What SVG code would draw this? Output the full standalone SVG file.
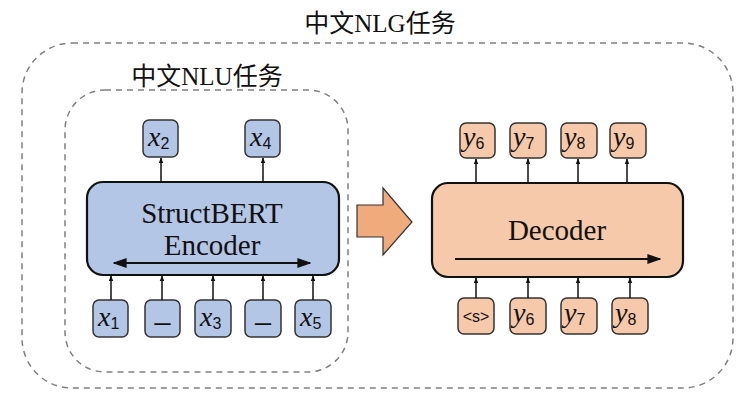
<svg xmlns="http://www.w3.org/2000/svg" width="750" height="412" viewBox="0 0 750 412">
<defs>
<style>
.dash{fill:none;stroke:#808080;stroke-width:1.5;stroke-dasharray:6,5}
.ttl{font-family:"Liberation Serif","Noto Sans CJK SC",serif;font-size:25px;fill:#111;text-anchor:middle}
.big{fill:none;stroke:#111;stroke-width:2.2}
.enc{fill:#B4C6E6}
.dec{fill:#F6C9AA}
.tok{stroke:#333;stroke-width:1.5}
.lbl{font-family:"Liberation Serif","Noto Sans CJK SC",serif;font-size:29px;fill:#111;text-anchor:middle}
.v{font-family:"Liberation Serif",serif;font-style:italic;font-size:28px;fill:#111}
.sub{font-family:"Liberation Sans","DejaVu Sans",sans-serif;font-style:normal;font-size:16px}
.s{font-family:"Liberation Sans","DejaVu Sans",sans-serif;font-size:14px;fill:#111;text-anchor:middle}
.ln{stroke:#111;stroke-width:1.5;fill:none}
.thick{stroke:#111;stroke-width:2.2;fill:none}
</style>
<marker id="ah" viewBox="0 0 10 10" refX="9" refY="5" markerWidth="6" markerHeight="6" orient="auto-start-reverse" markerUnits="userSpaceOnUse">
<path d="M0,1 L10,5 L0,9 z" fill="#111"/>
</marker>
<marker id="ahb" viewBox="0 0 10 10" refX="9" refY="5" markerWidth="14" markerHeight="14" orient="auto-start-reverse" markerUnits="userSpaceOnUse">
<path d="M0,1.5 L10,5 L0,8.5 z" fill="#111"/>
</marker>
</defs>
<rect width="750" height="412" fill="#fff"/>

<g id="nlg-task">
<rect class="dash" x="22" y="43" width="711" height="345" rx="50"/>
<text class="ttl" x="380" y="32">中文NLG任务</text>
</g>
<g id="nlu-task">
<rect class="dash" x="65" y="90" width="283" height="282" rx="40"/>
<text class="ttl" x="207" y="85">中文NLU任务</text>
</g>

<g id="encoder">
<rect class="enc big" x="87" y="182" width="252" height="93" rx="16"/>
<text class="lbl" x="212" y="223">StructBERT</text>
<text class="lbl" x="212" y="255">Encoder</text>
<line class="thick" x1="114" y1="263" x2="310" y2="263" marker-start="url(#ahb)" marker-end="url(#ahb)"/>
</g>

<g id="decoder">
<rect class="dec big" x="432" y="183" width="251" height="94" rx="16"/>
<text class="lbl" x="557" y="240">Decoder</text>
<line class="thick" x1="455" y1="259" x2="660" y2="259" marker-end="url(#ahb)"/>
</g>

<g id="transfer-arrow">
<path d="M357,205 L383,205 L383,188 L412,222 L383,255 L383,237 L357,237 Z" fill="#EFAB7B" stroke="#333" stroke-width="1.2"/>
</g>

<g id="x2"><rect class="enc tok" x="143" y="120" width="35" height="37" rx="6"/><text class="v" x="148" y="146">x<tspan class="sub" dy="3">2</tspan></text></g>
<g id="x4"><rect class="enc tok" x="245" y="120" width="35" height="37" rx="6"/><text class="v" x="250" y="146">x<tspan class="sub" dy="3">4</tspan></text></g>

<g id="x1"><rect class="enc tok" x="93" y="300" width="35" height="37" rx="6"/><text class="v" x="98" y="326">x<tspan class="sub" dy="3">1</tspan></text></g>
<g id="m1"><rect class="enc tok" x="145" y="300" width="35" height="37" rx="6"/><text class="s" x="162.5" y="319" style="font-size:28px">_</text></g>
<g id="x3"><rect class="enc tok" x="195" y="300" width="36" height="37" rx="6"/><text class="v" x="200" y="326">x<tspan class="sub" dy="3">3</tspan></text></g>
<g id="m2"><rect class="enc tok" x="245" y="300" width="36" height="37" rx="6"/><text class="s" x="263" y="319" style="font-size:28px">_</text></g>
<g id="x5"><rect class="enc tok" x="295" y="300" width="36" height="37" rx="6"/><text class="v" x="300" y="326">x<tspan class="sub" dy="3">5</tspan></text></g>

<g id="yo6"><rect class="dec tok" x="460" y="123" width="35" height="35" rx="6"/><text class="v" x="463" y="146">y<tspan class="sub" dy="3">6</tspan></text></g>
<g id="yo7"><rect class="dec tok" x="510" y="123" width="36" height="35" rx="6"/><text class="v" x="513" y="146">y<tspan class="sub" dy="3">7</tspan></text></g>
<g id="yo8"><rect class="dec tok" x="561" y="123" width="36" height="35" rx="6"/><text class="v" x="564" y="146">y<tspan class="sub" dy="3">8</tspan></text></g>
<g id="yo9"><rect class="dec tok" x="610" y="123" width="36" height="35" rx="6"/><text class="v" x="613" y="146">y<tspan class="sub" dy="3">9</tspan></text></g>

<g id="s0"><rect class="dec tok" x="458" y="298" width="36" height="36" rx="6"/><text class="s" x="476" y="322" style="font-size:16px">&lt;s&gt;</text></g>
<g id="yi6"><rect class="dec tok" x="510" y="298" width="36" height="36" rx="6"/><text class="v" x="513" y="322">y<tspan class="sub" dy="3">6</tspan></text></g>
<g id="yi7"><rect class="dec tok" x="561" y="298" width="36" height="36" rx="6"/><text class="v" x="564" y="322">y<tspan class="sub" dy="3">7</tspan></text></g>
<g id="yi8"><rect class="dec tok" x="612" y="298" width="36" height="36" rx="6"/><text class="v" x="615" y="322">y<tspan class="sub" dy="3">8</tspan></text></g>

<g id="connectors">
<line class="ln" x1="161" y1="182" x2="161" y2="158" marker-end="url(#ah)"/>
<line class="ln" x1="263" y1="182" x2="263" y2="158" marker-end="url(#ah)"/>
<line class="ln" x1="111" y1="300" x2="111" y2="276" marker-end="url(#ah)"/>
<line class="ln" x1="162" y1="300" x2="162" y2="276" marker-end="url(#ah)"/>
<line class="ln" x1="213" y1="300" x2="213" y2="276" marker-end="url(#ah)"/>
<line class="ln" x1="263" y1="300" x2="263" y2="276" marker-end="url(#ah)"/>
<line class="ln" x1="313" y1="300" x2="313" y2="276" marker-end="url(#ah)"/>
<line class="ln" x1="476" y1="183" x2="476" y2="159" marker-end="url(#ah)"/>
<line class="ln" x1="528" y1="183" x2="528" y2="159" marker-end="url(#ah)"/>
<line class="ln" x1="578" y1="183" x2="578" y2="159" marker-end="url(#ah)"/>
<line class="ln" x1="627" y1="183" x2="627" y2="159" marker-end="url(#ah)"/>
<line class="ln" x1="476" y1="298" x2="476" y2="278" marker-end="url(#ah)"/>
<line class="ln" x1="528" y1="298" x2="528" y2="278" marker-end="url(#ah)"/>
<line class="ln" x1="578" y1="298" x2="578" y2="278" marker-end="url(#ah)"/>
<line class="ln" x1="630" y1="298" x2="630" y2="278" marker-end="url(#ah)"/>
</g>
</svg>
